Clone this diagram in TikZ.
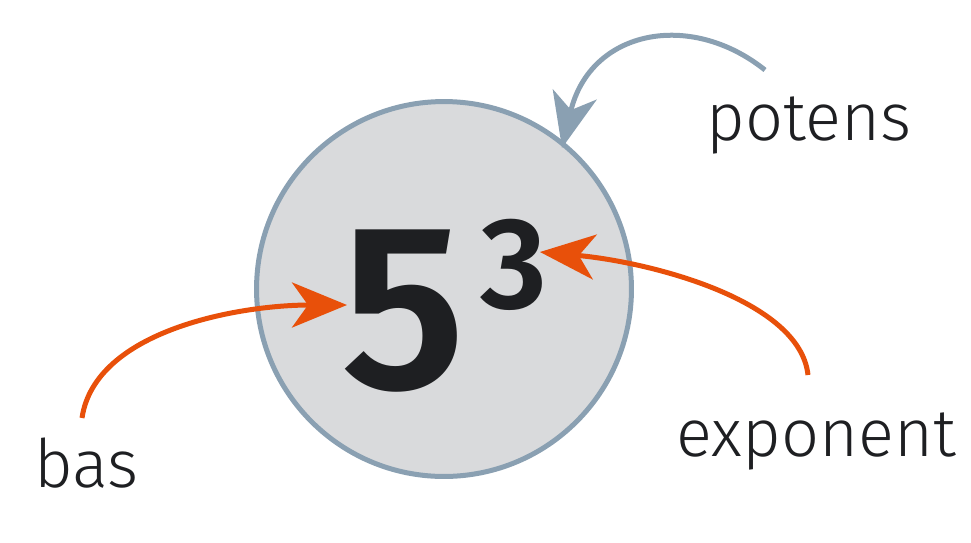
\documentclass[tikz,border=0pt]{standalone}
\usepackage{fontspec}
\setmainfont{Fira Sans Light}
\newfontfamily\boldf{Fira Sans SemiBold}
\usetikzlibrary{arrows.meta}
\definecolor{cfill}{HTML}{D9DADC}
\definecolor{cgray}{HTML}{8AA0B2}
\definecolor{corange}{HTML}{E8500A}
\definecolor{ctext}{HTML}{1E1F22}
\begin{document}
\begin{tikzpicture}[x=0.02cm,y=-0.02cm,
  lbl/.style={font=\fontsize{38}{38}\selectfont,text=ctext,inner sep=0pt},
  arr/.style={line width=0.1cm,-{Stealth[length=1.1cm,width=0.9cm,inset=0.32cm]}},
  ]
\useasboundingbox (0,0) rectangle (971,542);
\node[circle,draw=cgray,fill=cfill,line width=0.1cm,minimum size=7.5cm,inner sep=0pt] (c) at (444,289) {};
\node[font=\boldf\fontsize{134}{134}\selectfont,text=ctext,anchor=base,inner sep=0pt] (five) at (404,388) {5};
\node[font=\boldf\fontsize{74}{74}\selectfont,text=ctext,anchor=base,inner sep=0pt] (three) at (514,308) {3};
\node[lbl,anchor=base west] (potens) at (706,140) {potens};
\node[lbl,anchor=base west] (bas) at (34,487) {bas};
\node[lbl,anchor=base west] (exponent) at (676,456) {exponent};
\coordinate (ps) at (765,70);
\coordinate (pe) at (562,148);
\coordinate (bs) at (82,418);
\coordinate (be) at (347,305);
\coordinate (es) at (808,375);
\coordinate (ee) at (540,252);
\draw[arr,draw=cgray,color=cgray] (ps) .. controls (690,10) and (590,30) .. (pe);
\draw[arr,draw=corange,color=corange] (bs) .. controls (95,330) and (240,305) .. (be);
\draw[arr,draw=corange,color=corange] (es) .. controls (800,300) and (650,262) .. (ee);
\end{tikzpicture}
\end{document}
